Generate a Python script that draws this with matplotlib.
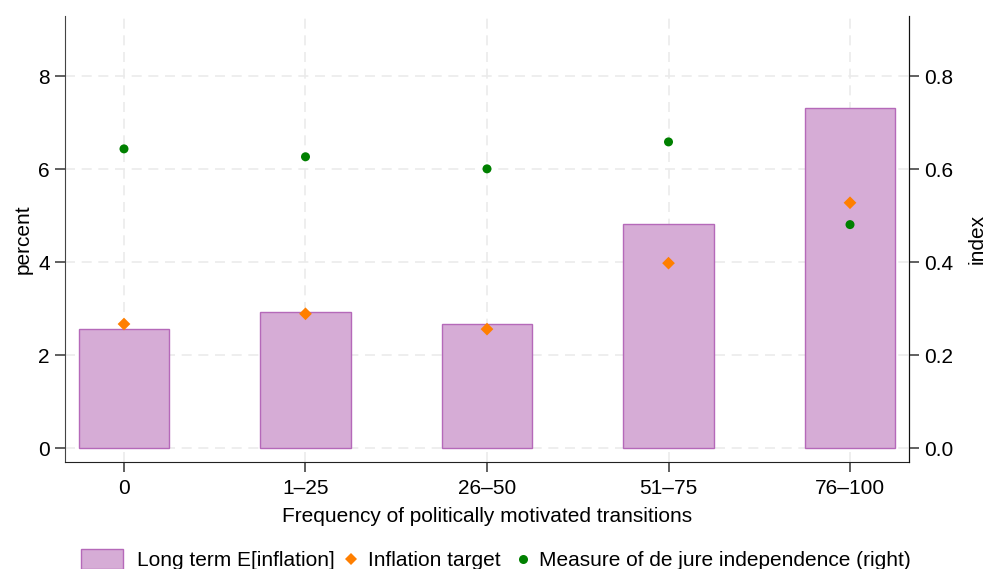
import matplotlib.pyplot as plt
import numpy as np
from matplotlib.patches import Rectangle
from matplotlib.lines import Line2D
from matplotlib.legend_handler import HandlerPatch

plt.rcParams['font.family'] = ['Liberation Sans', 'DejaVu Sans']

# Frequency bins of politically motivated transitions
categories = ['0', '1\u201325', '26\u201350', '51\u201375', '76\u2013100']
lt_expect = [2.57, 2.93, 2.67, 4.83, 7.32]      # long term E[inflation], percent
infl_target = [2.67, 2.89, 2.56, 3.98, 5.28]    # inflation target, percent
dejure_idx = [0.644, 0.627, 0.601, 0.659, 0.481]  # de jure independence index

bar_fc = '#d6acd6'
bar_ec = '#b569b9'
orange = '#ff7f00'
green = '#008000'
fs = 15

x = np.arange(len(categories))

fig = plt.figure(figsize=(9.87, 5.69), dpi=100)
ax = fig.add_axes([65/987, 1 - 462/569, (909-65)/987, (462-16)/569])
ax2 = ax.twinx()

ax.bar(x, lt_expect, width=0.5, color=bar_fc, edgecolor=bar_ec,
       linewidth=1.0, zorder=2)
ax.scatter(x, infl_target, marker='D', s=42, color=orange, zorder=4,
           edgecolors='none')
ax2.scatter(x, dejure_idx, marker='o', s=42, color=green, zorder=4,
            edgecolors='none')

ax.set_xlim(-0.325, 4.325)
ax.set_ylim(-0.3, 9.3)
ax2.set_ylim(-0.03, 0.93)

ax.set_yticks([0, 2, 4, 6, 8])
ax2.set_yticks([0.0, 0.2, 0.4, 0.6, 0.8])
ax2.set_yticklabels(['0.0', '0.2', '0.4', '0.6', '0.8'])
ax.set_xticks(x)
ax.set_xticklabels(categories)

ax.grid(True, linestyle=(0, (6, 4)), color='#ebebeb', linewidth=1.2, zorder=0)
ax.set_axisbelow(True)

for a in (ax, ax2):
    a.spines['top'].set_visible(False)
    a.tick_params(labelsize=fs, length=7, width=1.2, color='#444444', pad=4)
ax.tick_params(axis='x', pad=5)
ax.spines['left'].set_color('#444444')
ax.spines['bottom'].set_color('#222222')
ax2.spines['right'].set_color('#111111')
ax2.spines['left'].set_visible(False)
ax2.spines['bottom'].set_visible(False)

ax.set_ylabel('percent', fontsize=fs, labelpad=4)
ax2.set_ylabel('index', fontsize=fs, labelpad=10)
ax.set_xlabel('Frequency of politically motivated transitions', fontsize=fs, labelpad=7)


# wide swatch for the bars, tight handles for the markers
def wide_box(legend, orig_handle, xdescent, ydescent, width, height, fontsize):
    w = 42 * 0.72
    h = 20 * 0.72
    gap = 6 * 0.72
    return Rectangle((width - w - gap - xdescent, height / 2 - h / 2 - ydescent), w, h)


handles = [
    Rectangle((0, 0), 1, 1, facecolor=bar_fc, edgecolor=bar_ec, linewidth=1.0),
    Line2D([], [], linestyle='none', marker='D', markersize=6.5,
           color=orange, markeredgewidth=0),
    Line2D([], [], linestyle='none', marker='o', markersize=6.5,
           color=green, markeredgewidth=0),
]
labels = ['Long term E[inflation]', 'Inflation target ',
          'Measure of de jure independence (right)']
fig.legend(handles, labels, loc='center', bbox_to_anchor=(0.5176, 1 - 561/569),
           ncol=3, frameon=False, fontsize=fs, handlelength=0.9,
           handletextpad=0.35, columnspacing=0.35,
           handler_map={Rectangle: HandlerPatch(patch_func=wide_box)})

fig.savefig('out.png', dpi=100)
